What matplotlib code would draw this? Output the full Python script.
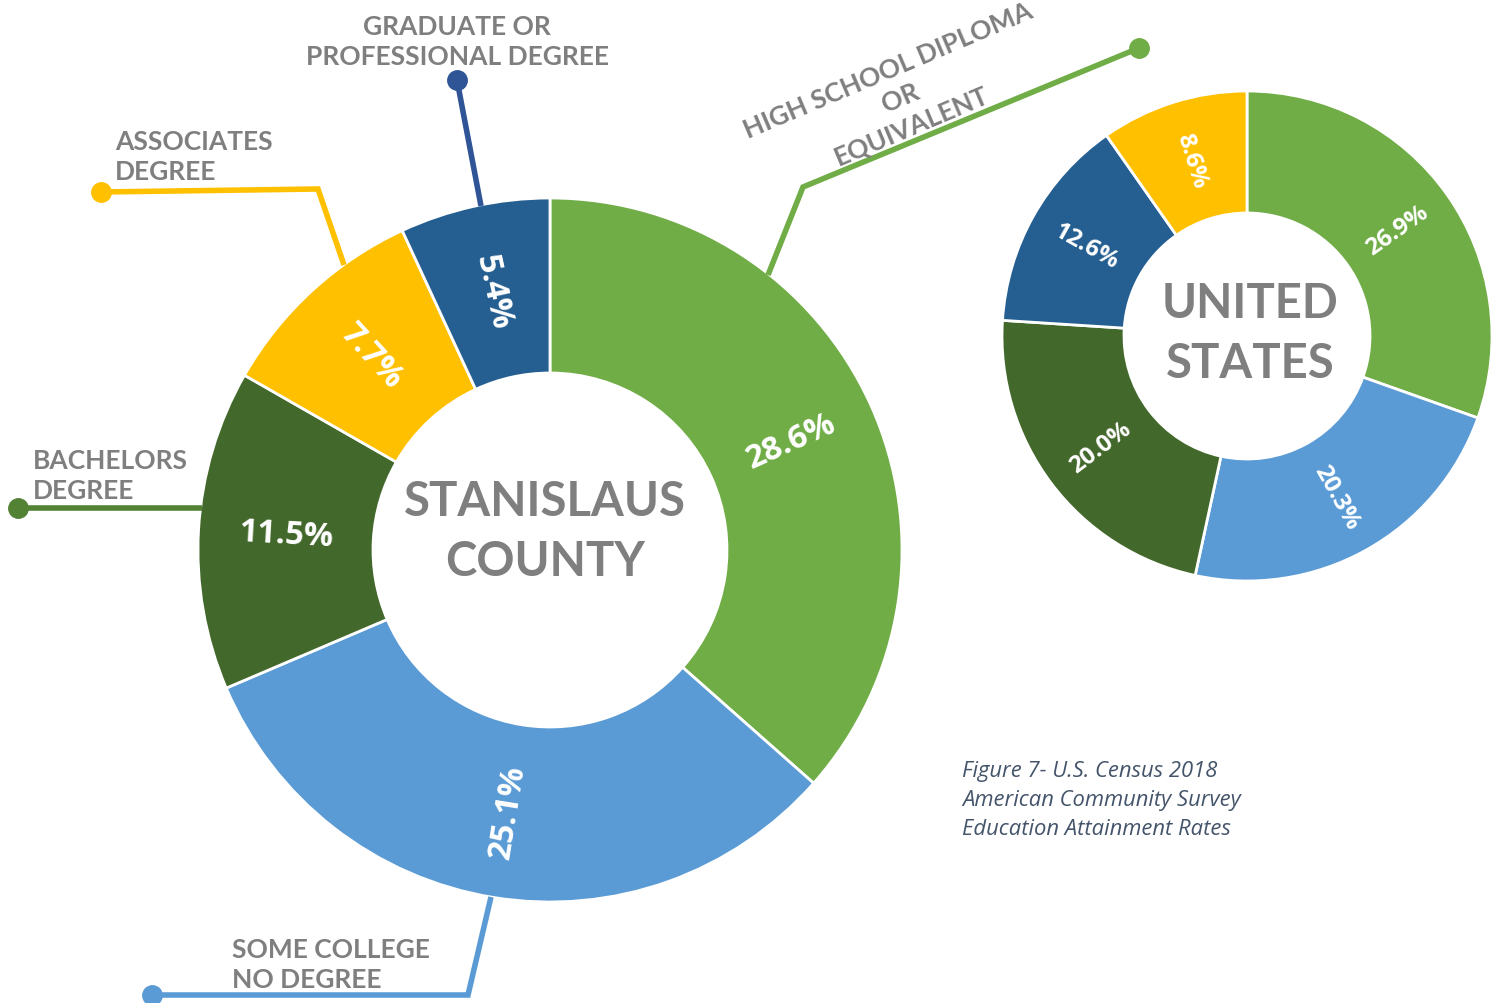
import matplotlib.pyplot as plt
import numpy as np

# Education attainment, clockwise from 12 o'clock
county_values = [28.6, 25.1, 11.5, 7.7, 5.4]
county_colors = ['#70AD47', '#5B9BD5', '#43682B', '#FFC000', '#255E91']

us_values = [26.9, 20.3, 20.0, 12.6, 8.6]
us_colors = ['#70AD47', '#5B9BD5', '#43682B', '#255E91', '#FFC000']

W, H = 1502, 1004
GRAY = '#7F7F7F'


def Y(y):
    # image pixel row -> data y
    return H - y


def donut(ax, values, colors, cx, cy, r_out, r_in, fsize):
    wedges, _ = ax.pie(values, colors=colors, startangle=90, counterclock=False,
                       center=(cx, Y(cy)), radius=r_out,
                       wedgeprops=dict(width=r_out - r_in, edgecolor='white', linewidth=2))
    r_mid = (r_out + r_in) / 2
    for w, v in zip(wedges, values):
        mid = (w.theta1 + w.theta2) / 2
        rot = (mid + 90) % 180 - 90
        x = cx + r_mid * np.cos(np.radians(mid))
        y = Y(cy) + r_mid * np.sin(np.radians(mid))
        ax.text(x, y, f'{v:.1f}%', color='white', fontsize=fsize, fontweight='bold',
                family='Open Sans', rotation=rot, rotation_mode='anchor',
                ha='center', va='center')


fig = plt.figure(figsize=(W / 100, H / 100), dpi=100)
ax = fig.add_axes([0, 0, 1, 1])

donut(ax, county_values, county_colors, 550, 551, 352, 177, 23.5)
donut(ax, us_values, us_colors, 1247, 337, 245, 123, 17.5)

ax.set_xlim(0, W)
ax.set_ylim(0, H)
ax.set_aspect('equal')
ax.axis('off')

# centre titles
ax.text(545, Y(532), 'STANISLAUS\nCOUNTY', ha='center', va='center', color=GRAY,
        fontsize=34, fontweight='bold', family='Lato', linespacing=1.42)
ax.text(1250, Y(334), 'UNITED\nSTATES', ha='center', va='center', color=GRAY,
        fontsize=34, fontweight='bold', family='Lato', linespacing=1.42)

# leader lines with end dots
leaders = [
    ('#2F5597', [(457, 81), (481, 207)]),
    ('#FFC000', [(101, 193), (318, 190), (344, 266)]),
    ('#548235', [(18, 509), (202, 509)]),
    ('#5B9BD5', [(152, 996), (468, 996), (491, 898)]),
    ('#70AD47', [(1139, 49), (803, 188), (768, 276)]),
]
for col, pts in leaders:
    xs = [p[0] for p in pts]
    ys = [Y(p[1]) for p in pts]
    ax.plot(xs, ys, color=col, lw=4, solid_capstyle='butt', solid_joinstyle='miter')
    ax.plot(xs[0], ys[0], 'o', color=col, ms=14)

lab = dict(color=GRAY, fontsize=19, fontweight='bold', family='Lato', linespacing=1.3)
ax.text(457, Y(42), 'GRADUATE OR\nPROFESSIONAL DEGREE', ha='center', va='center', **lab)
ax.text(115, Y(157), 'ASSOCIATES\nDEGREE', ha='left', va='center', **lab)
ax.text(33, Y(476), 'BACHELORS\nDEGREE', ha='left', va='center', **lab)
ax.text(232, Y(965), 'SOME COLLEGE\nNO DEGREE', ha='left', va='center', **lab)
ax.text(900, Y(98), 'HIGH SCHOOL DIPLOMA\nOR\nEQUIVALENT', ha='center', va='center',
        rotation=23, rotation_mode='anchor', multialignment='center', **lab)

ax.text(962, Y(801), 'Figure 7- U.S. Census 2018\nAmerican Community Survey\nEducation Attainment Rates',
        ha='left', va='center', color='#44546A', fontsize=15.8, style='italic',
        family='Open Sans', linespacing=1.5)

fig.savefig('out.png', dpi=100, facecolor='white')
